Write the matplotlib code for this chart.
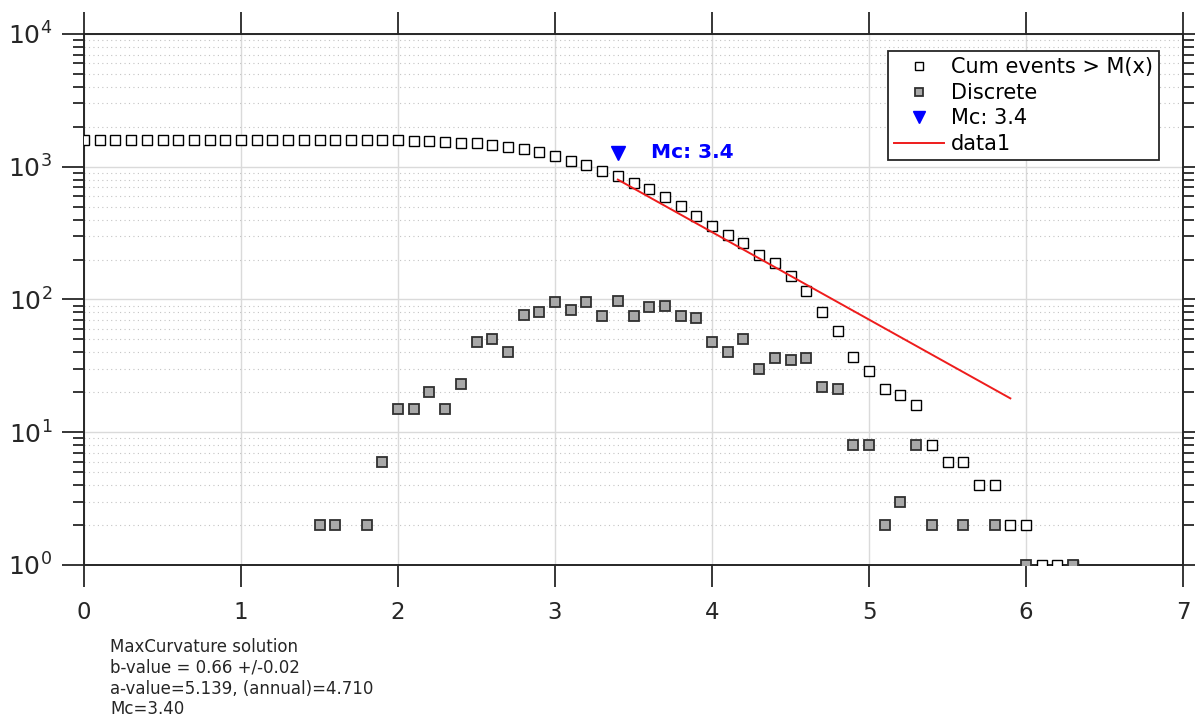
import numpy as np
import matplotlib
matplotlib.use('Agg')
import matplotlib.pyplot as plt

# magnitude bins
mags = [0.0, 0.1, 0.2, 0.3, 0.4, 0.5, 0.6, 0.7, 0.8, 0.9,
        1.0, 1.1, 1.2, 1.3, 1.4, 1.5, 1.6, 1.7, 1.8, 1.9,
        2.0, 2.1, 2.2, 2.3, 2.4, 2.5, 2.6, 2.7, 2.8, 2.9,
        3.0, 3.1, 3.2, 3.3, 3.4, 3.5, 3.6, 3.7, 3.8, 3.9,
        4.0, 4.1, 4.2, 4.3, 4.4, 4.5, 4.6, 4.7, 4.8, 4.9,
        5.0, 5.1, 5.2, 5.3, 5.4, 5.5, 5.6, 5.7, 5.8, 5.9,
        6.0, 6.1, 6.2, 6.3]

# cumulative number of events >= M
cum_events = [1598, 1598, 1598, 1598, 1598, 1598, 1598, 1598, 1598, 1598,
              1598, 1598, 1598, 1598, 1598, 1598, 1596, 1594, 1594, 1592,
              1586, 1571, 1556, 1536, 1521, 1498, 1450, 1400, 1360, 1284,
              1203, 1107, 1023, 928, 853, 755, 680, 592, 502, 427,
              355, 307, 267, 217, 187, 151, 116, 80, 58, 37,
              29, 21, 19, 16, 8, 6, 6, 4, 4, 2,
              2, 1, 1, 1]

# events per bin
discrete = [0, 0, 0, 0, 0, 0, 0, 0, 0, 0,
            0, 0, 0, 0, 0, 2, 2, 0, 2, 6,
            15, 15, 20, 15, 23, 48, 50, 40, 76, 81,
            96, 84, 95, 75, 98, 75, 88, 90, 75, 72,
            48, 40, 50, 30, 36, 35, 36, 22, 21, 8,
            8, 2, 3, 8, 2, 0, 2, 0, 2, 0,
            1, 0, 0, 1]

mc = 3.4
mc_marker_y = 1280
fit_m = [3.4, 5.9]
fit_n = [800, 18]

info_lines = ['MaxCurvature solution',
              'b-value = 0.66 +/-0.02',
              'a-value=5.139, (annual)=4.710',
              'Mc=3.40']

disc = np.array(discrete, dtype=float)
disc[disc <= 0] = np.nan

fig = plt.figure(figsize=(11.95, 7.17), dpi=100)
ax = fig.add_axes([0.0703, 0.212, 0.9197, 0.7406])

ax.plot(mags, cum_events, 's', ms=6.8, mfc='white', mec='black', mew=1.0,
        label='Cum events > M(x)', zorder=3)
ax.plot(mags, disc, 's', ms=6.8, mfc='#a8a8a8', mec='#303030', mew=1.3,
        label='Discrete', zorder=4)
ax.plot([mc], [mc_marker_y], 'v', ms=10, color='#0000ff', mec='#0000ff',
        label='Mc: %.1f' % mc, zorder=5)
ax.plot(fit_m, fit_n, '-', color='#ee1c1c', lw=1.4, label='data1', zorder=5)

ax.text(mc + 0.21, mc_marker_y, 'Mc: %.1f' % mc, color='#0000ff',
        fontsize=14.5, fontweight='bold', va='center', ha='left')

ax.set_yscale('log')
ax.set_xlim(0, 7)
ax.set_ylim(1, 1e4)
ax.set_xticks(range(0, 8))

ax.grid(True, which='major', color='#dadada', lw=1.0, ls='-')
ax.grid(True, which='minor', axis='y', color='#c4c4c4', lw=0.8, ls=(0, (1, 3)))
ax.set_axisbelow(True)

for s in ax.spines.values():
    s.set_color('#262626')
    s.set_linewidth(1.4)

ax.tick_params(which='both', direction='out', top=True, right=True,
               color='#262626', width=1.3, labelcolor='#262626')
ax.tick_params(which='major', length=16)
ax.tick_params(which='minor', length=8)
ax.tick_params(axis='x', pad=10, labelsize=16.5)
ax.tick_params(axis='y', pad=7, labelsize=18)

leg = ax.legend(loc='upper right', bbox_to_anchor=(0.978, 0.968),
                borderaxespad=0, fancybox=False, framealpha=1,
                edgecolor='#262626', fontsize=15, handlelength=2.4,
                handletextpad=0.3, labelspacing=0.27, borderpad=0.3,
                markerscale=0.85)
leg.get_frame().set_linewidth(1.3)

fig.text(110 / 1195, 1 - 638 / 717, '\n'.join(info_lines), fontsize=12,
         color='#262626', va='top', ha='left', linespacing=1.2)

fig.savefig('out.png', dpi=100)
